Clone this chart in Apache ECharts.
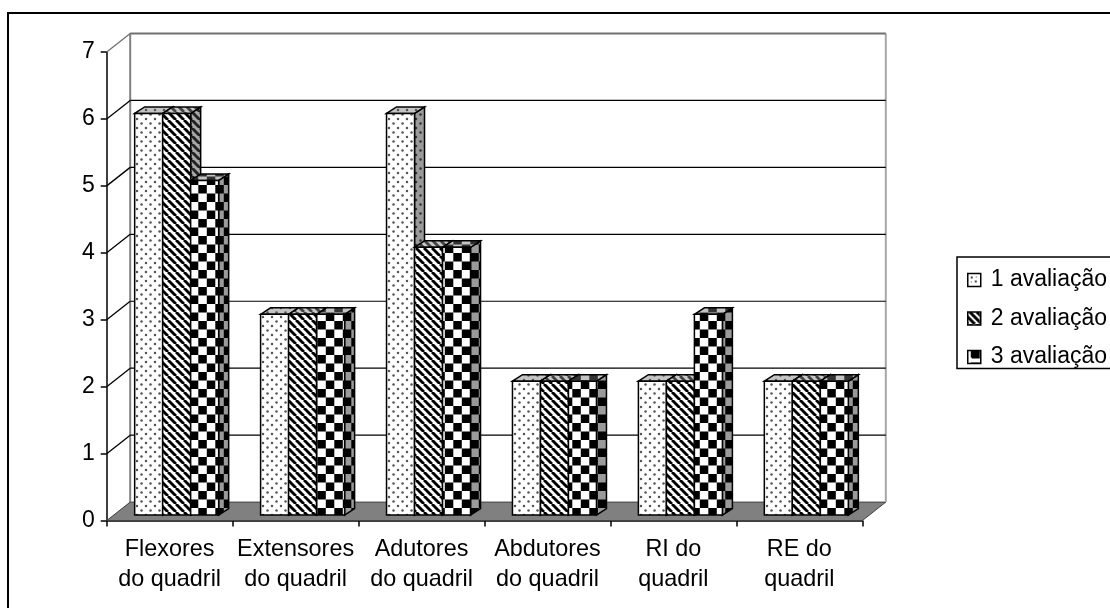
<!DOCTYPE html>
<html><head><meta charset="utf-8">
<style>html,body{margin:0;padding:0;background:#fff}#c{width:1110px;height:608px}</style>
<script src="https://cdn.jsdelivr.net/npm/echarts@6/dist/echarts.min.js"></script>
</head><body><div id="c"></div>
<script>
const categories = ['Flexores\ndo quadril','Extensores\ndo quadril','Adutores\ndo quadril','Abdutores\ndo quadril','RI do\nquadril','RE do\nquadril'];
const seriesNames = ['1 avaliação','2 avaliação','3 avaliação'];
const aval1 = [6,3,6,2,2,2];
const aval2 = [6,3,4,2,2,2];
const aval3 = [5,3,4,2,3,2];
const gridValues = [0,1,2,3,4,5,6,7];

function tile(w,h,draw){const c=document.createElement('canvas');c.width=w;c.height=h;draw(c.getContext('2d'),w,h);return {image:c,repeat:'repeat'};}
function dots(bg,fg){return tile(9,9,(g,w,h)=>{g.fillStyle=bg;g.fillRect(0,0,w,h);g.fillStyle=fg;
  g.beginPath();g.arc(2,2,1.25,0,7);g.fill();g.beginPath();g.arc(6.5,6.5,1.25,0,7);g.fill();});}
function stripes(bg,fg){return tile(8,8,(g,w,h)=>{g.fillStyle=bg;g.fillRect(0,0,w,h);g.strokeStyle=fg;g.lineWidth=2.9;
  for(let k=-8;k<=16;k+=8){g.beginPath();g.moveTo(k,0);g.lineTo(k+8,8);g.stroke();}});}
function checks(bg,fg){return tile(17,17,(g,w,h)=>{g.fillStyle=bg;g.fillRect(0,0,w,h);g.fillStyle=fg;
  for(const dx of [-17,0,17])for(const dy of [-17,0,17]){g.fillRect(11.3+dx,15+dy,8.5,8.5);g.fillRect(2.8+dx,6.5+dy,8.5,8.5);}});}
const faces = [
 {front:dots('#fff','#555'),side:dots('#9a9a9a','#333'),top:dots('#c4c4c4','#555')},
 {front:stripes('#fff','#000'),side:stripes('#a8a8a8','#222'),top:stripes('#c8c8c8','#444')},
 {front:checks('#fff','#000'),side:checks('#9a9a9a','#000'),top:checks('#c4c4c4','#333')}
];
const legendIcons = [
 tile(12,12,(g)=>{g.fillStyle='#fff';g.fillRect(0,0,12,12);g.fillStyle='#444';g.fillRect(3,3,2,2);g.fillRect(7,7,2,2);g.fillRect(8,3,1,1);g.fillRect(3,8,1,1);}),
 tile(12,12,(g)=>{g.fillStyle='#fff';g.fillRect(0,0,12,12);g.strokeStyle='#000';g.lineWidth=3;for(let k=-12;k<=12;k+=7){g.beginPath();g.moveTo(k,0);g.lineTo(k+12,12);g.stroke();}}),
 tile(12,12,(g)=>{g.fillStyle='#000';g.fillRect(0,0,12,12);g.fillStyle='#fff';g.fillRect(0,7,12,5);g.fillRect(0,0,3,12);g.fillStyle='#000';g.fillRect(4,0,8,8);})
];
const DX=23.5, DY=18.5, BD=10, BH=6.5, BARW=28, SHIFT=5.5, GROUP=7;

function barRender(si){return function(params,api){
  const cat=api.value(0), val=api.value(1);
  const pt=api.coord([cat,val]), base=api.coord([cat,0]);
  const x0=pt[0]+GROUP+(si-1.5)*BARW, x1=x0+BARW, yT=pt[1]-SHIFT, yB=base[1]-SHIFT;
  const st={stroke:'#000',lineWidth:1.5,lineJoin:'miter'};
  const f=faces[si];
  return {type:'group',children:[
    {type:'polygon',shape:{points:[[x1,yT],[x1+BD,yT-BH],[x1+BD,yB-BH],[x1,yB]]},style:Object.assign({fill:f.side},st)},
    {type:'polygon',shape:{points:[[x0,yT],[x0+BD,yT-BH],[x1+BD,yT-BH],[x1,yT]]},style:Object.assign({fill:f.top},st)},
    {type:'rect',shape:{x:x0,y:yT,width:BARW,height:yB-yT},style:Object.assign({fill:f.front},st)}
  ]};
};}
function wallRender(params,api){
  const v=api.value(0), n=categories.length;
  const L=api.coord([0,v]), w=api.size([1,0])[0];
  const xl=L[0]-w/2, xr=xl+w*n, y=L[1];
  const kids=[];
  if(v===0){
    const top=api.coord([0,gridValues[gridValues.length-1]])[1];
    kids.push({type:'polygon',shape:{points:[[xl,y],[xl+DX,y-DY],[xr+DX,y-DY],[xr,y]]},style:{fill:'#808080',stroke:'#404040',lineWidth:1}});
    kids.push({type:'line',shape:{x1:xl+DX,y1:top-DY,x2:xl+DX,y2:y-DY},style:{stroke:'#808080',lineWidth:2}});
    kids.push({type:'line',shape:{x1:xr+DX,y1:top-DY,x2:xr+DX,y2:y-DY},style:{stroke:'#a6a6a6',lineWidth:2}});
  } else {
    const top=v===gridValues[gridValues.length-1];
    kids.push({type:'line',shape:{x1:xl,y1:y,x2:xl+DX,y2:y-DY},style:{stroke:top?'#707070':'#000',lineWidth:1.3}});
    kids.push({type:'line',shape:{x1:xl+DX,y1:y-DY,x2:xr+DX,y2:y-DY},style:{stroke:top?'#707070':'#000',lineWidth:top?2:1.2}});
  }
  return {type:'group',children:kids};
}
const fontFamily='"Liberation Sans",Arial,sans-serif';
const chart=echarts.init(document.getElementById('c'),null,{renderer:'canvas'});
chart.setOption({
  animation:false,
  backgroundColor:'#fff',
  grid:{left:106.7,top:52,width:755.6,height:468.6},
  xAxis:{type:'category',data:categories,
    axisLine:{lineStyle:{color:'#000',width:1.5}},
    axisTick:{show:true,length:6,lineStyle:{color:'#000',width:1.5}},
    axisLabel:{color:'#000',fontFamily,fontSize:23.4,lineHeight:30,margin:14,interval:0}},
  yAxis:{type:'value',min:0,max:7,interval:1,
    axisLine:{show:true,lineStyle:{color:'#000',width:1.5}},
    axisTick:{show:true,length:6,lineStyle:{color:'#000',width:1.5}},
    axisLabel:{color:'#000',fontFamily,fontSize:23,margin:12},
    splitLine:{show:false}},
  legend:{orient:'vertical',left:957,top:257,padding:[11.5,60,0,10],itemGap:15.5,itemWidth:13,itemHeight:13,
    borderColor:'#000',borderWidth:1.5,backgroundColor:'#fff',
    textStyle:{color:'#000',fontFamily,fontSize:23,padding:[0,0,0,5]},
    data:seriesNames.map((n,i)=>({name:n,icon:'rect',itemStyle:{color:legendIcons[i],borderColor:'#000',borderWidth:1.5}}))},
  graphic:[{type:'polyline',silent:true,shape:{points:[[8,608],[8,13],[1110,13]]},style:{fill:null,stroke:'#000',lineWidth:2}}],
  series:[
    {type:'custom',name:'walls',coordinateSystem:'cartesian2d',silent:true,z:1,encode:{x:1,y:0},
     data:gridValues.map(v=>[v,0]),renderItem:(p,api)=>wallRender(p,api)},
    ...[aval1,aval2,aval3].map((vals,si)=>({type:'custom',name:seriesNames[si],coordinateSystem:'cartesian2d',z:3+si,silent:true,
      itemStyle:{color:faces[si].front},encode:{x:0,y:1},
      data:vals.map((v,i)=>[i,v]),renderItem:barRender(si)}))
  ]
});
</script></body></html>
